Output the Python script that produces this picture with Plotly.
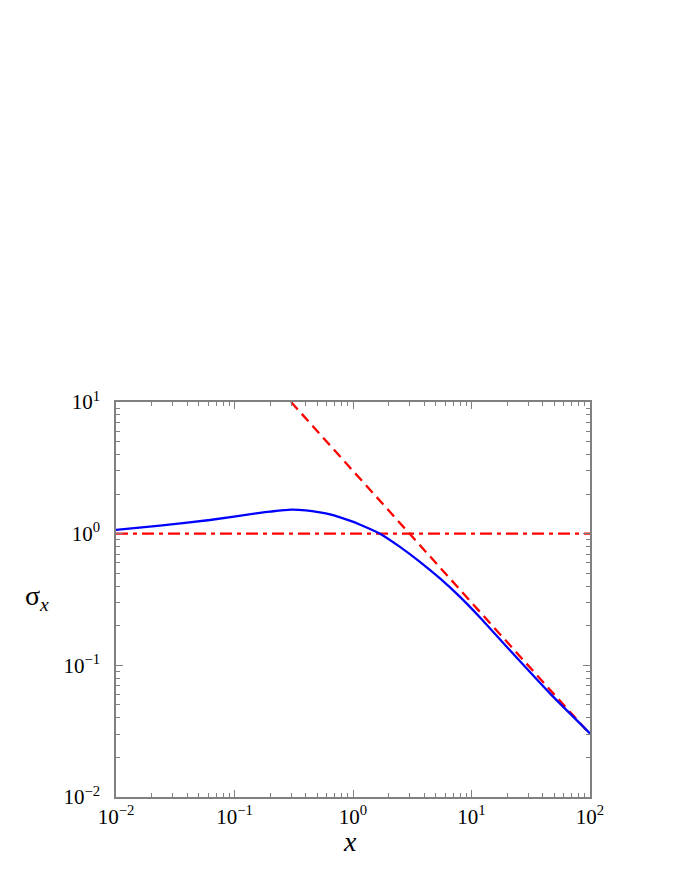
import plotly.graph_objects as go

# values (log-log axes)
blue_x = [0.01, 0.0235, 0.062, 0.164, 0.2, 0.3, 0.4, 0.525, 0.64, 0.94, 1.15, 1.69, 2.49,
          3.67, 5.42, 8.0, 11.8, 21.1, 45.9, 100]
blue_y = [1.07, 1.15, 1.27, 1.44, 1.47, 1.52, 1.50, 1.45, 1.40, 1.255, 1.17, 1.0, 0.794,
          0.611, 0.457, 0.331, 0.231, 0.130, 0.0612, 0.0304]

dash_x = [0.3, 100]
dash_y = [10, 0.03]

flat_x = [0.01, 100]
flat_y = [1, 1]

tick_vals = [0.01, 0.1, 1, 10, 100]
tick_text = ["10<sup>−2</sup>", "10<sup>−1</sup>", "10<sup>0</sup>", "10<sup>1</sup>", "10<sup>2</sup>"]
minor_vals = [m * d for d in [0.01, 0.1, 1, 10] for m in range(2, 10)]

SERIF = "Times New Roman, Liberation Serif, serif"
AXIS_GRAY = "#808080"

fig = go.Figure()
fig.add_trace(go.Scatter(x=flat_x, y=flat_y, mode="lines",
                         line=dict(color="#ff0000", width=2.3, dash="12px,5px,4px,5px")))
fig.add_trace(go.Scatter(x=dash_x, y=dash_y, mode="lines",
                         line=dict(color="#ff0000", width=2.3, dash="10px,6px")))
fig.add_trace(go.Scatter(x=blue_x, y=blue_y, mode="lines",
                         line=dict(color="#0000ff", width=2.3, shape="spline", smoothing=0.6)))

axis_common = dict(
    type="log",
    showgrid=False,
    zeroline=False,
    showline=True,
    linecolor=AXIS_GRAY,
    linewidth=1.5,
    mirror="allticks",
    ticks="inside",
    ticklen=7,
    tickcolor=AXIS_GRAY,
    tickvals=tick_vals,
    ticktext=tick_text,
    tickfont=dict(family=SERIF, size=21, color="black"),
    minor=dict(ticks="inside", ticklen=4, tickcolor=AXIS_GRAY, showgrid=False,
               tickvals=minor_vals),
)

fig.update_xaxes(range=[-2, 2], **axis_common)
fig.update_yaxes(range=[-2, 1], ticklabelstandoff=10, **axis_common)

fig.add_annotation(text="σ<sub><i>x</i></sub>", xref="paper", yref="paper",
                   x=-0.167, y=0.506, xanchor="center", yanchor="middle",
                   showarrow=False, font=dict(family=SERIF, size=28, color="black"))
fig.add_annotation(text="<i>x</i>", xref="paper", yref="paper",
                   x=0.494, y=-0.112, xanchor="center", yanchor="middle",
                   showarrow=False, font=dict(family=SERIF, size=28, color="black"))

fig.update_layout(
    width=692,
    height=896,
    showlegend=False,
    paper_bgcolor="white",
    plot_bgcolor="white",
    margin=dict(l=108, r=110, t=394, b=107),
)

fig.write_html("out.html")
